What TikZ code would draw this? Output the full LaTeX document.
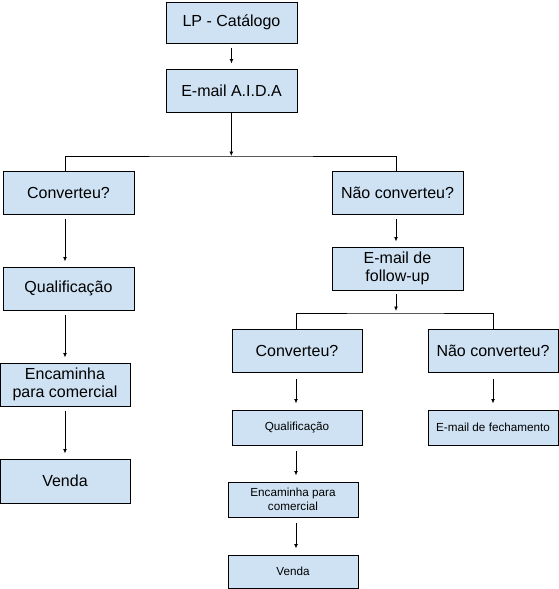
\documentclass[tikz,border=0pt]{standalone}
\usepackage{fontspec}
\setmainfont{Liberation Sans}
\usetikzlibrary{arrows.meta}
\definecolor{boxfill}{HTML}{CFE2F3}
\tikzset{
  box/.style={draw=black, fill=boxfill, line width=1pt, inner sep=0pt, align=center,
    font=\fontsize{16}{18.4}\selectfont},
  bigbox/.style={box, minimum width=131pt, minimum height=43pt},
  smallbox/.style={box, minimum width=130pt, minimum height=35pt,
    font=\fontsize{11.7}{13.5}\selectfont},
  arr/.style={-{Latex[length=4.5pt,width=4pt]}, line width=1pt},
  conn/.style={line width=1pt},
}
\begin{document}
\begin{tikzpicture}[x=1pt,y=-1pt]
\useasboundingbox (0,0) rectangle (559,589);
\node[bigbox, minimum height=41pt] (lp) at (231.5,22.5) {LP - Catálogo};
\node[bigbox] (aida) at (231.5,90.5) {E-mail A.I.D.A};
\node[bigbox] (conv1) at (68.5,192.5) {Converteu?};
\node[bigbox] (nconv1) at (397.5,192.5) {Não converteu?};
\node[bigbox] (qual1) at (68.5,288.5) {Qualificação};
\node[bigbox, minimum width=130pt] (enc1) at (65,384.5) {Encaminha\\para comercial};
\node[bigbox, minimum width=130pt, minimum height=44pt] (venda1) at (65,481) {Venda};
\node[bigbox] (follow) at (397.5,268.5) {E-mail de\\follow-up};
\node[bigbox, minimum width=130pt] (conv2) at (297,350.5) {Converteu?};
\node[bigbox, minimum width=130pt] (nconv2) at (493,350.5) {Não converteu?};
\node[smallbox] (qual2) at (297,427.5) {Qualificação};
\node[smallbox] (fech) at (493,427.5) {E-mail de fechamento};
\node[smallbox] (enc2) at (293,499.5) {Encaminha para\\comercial};
\node[smallbox, minimum height=33pt] (venda2) at (293,571.5) {Venda};
\coordinate (bus1) at (231.3,156);
\coordinate (bus2) at (396,313);
% top
\draw[arr, shorten <=4pt, shorten >=5pt] (lp) -- (aida);
\draw[arr] (aida.south -| bus1) -- (bus1);
\draw[conn] (conv1.north -| venda1) |- (bus1) -| (nconv1.north -| bus2);
% left column
\draw[arr, shorten <=4pt, shorten >=5pt] (conv1.south -| venda1) -- (qual1.north -| venda1);
\draw[arr, shorten <=4pt, shorten >=5pt] (qual1.south -| venda1) -- (enc1.north -| venda1);
\draw[arr, shorten <=4pt, shorten >=5pt] (enc1.south -| venda1) -- (venda1.north);
% right column
\draw[arr, shorten <=4pt, shorten >=5pt] (nconv1.south -| bus2) -- (follow.north -| bus2);
\draw[arr, shorten <=3pt, shorten >=2pt] (follow.south -| bus2) -- (bus2);
\draw[conn] (conv2.north -| 296,0) |- (bus2) -| (nconv2.north);
\draw[arr, shorten <=6pt, shorten >=6pt] (conv2.south -| 296,0) -- (qual2.north -| 296,0);
\draw[arr, shorten <=6pt, shorten >=6pt] (nconv2.south) -- (fech.north);
\draw[arr, shorten <=5pt, shorten >=6pt] (qual2.south -| 296,0) -- (enc2.north -| 296,0);
\draw[arr, shorten <=5pt, shorten >=6pt] (enc2.south -| 296,0) -- (venda2.north -| 296,0);
\end{tikzpicture}
\end{document}
